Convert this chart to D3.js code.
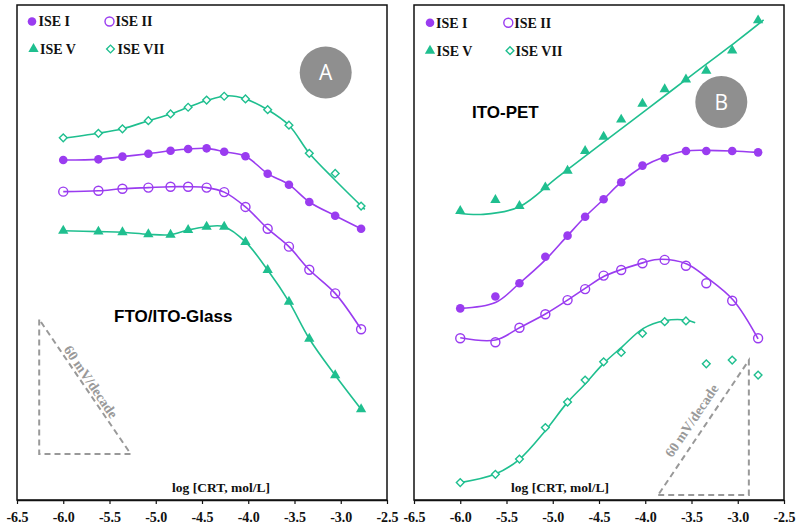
<!DOCTYPE html>
<html>
<head>
<meta charset="utf-8">
<script src="https://cdn.jsdelivr.net/npm/d3@7"></script>
<style>
  html, body { margin: 0; padding: 0; background: #fff; }
  svg { display: block; }
</style>
</head>
<body>
<svg id="chart" width="800" height="530"></svg>
<script>
// ---------- data ----------
const xTicks = [-6.5, -6.0, -5.5, -5.0, -4.5, -4.0, -3.5, -3.0, -2.5];
const logC = [-6.0, -5.62, -5.36, -5.08, -4.84, -4.65, -4.45, -4.26, -4.03, -3.79, -3.56, -3.34, -3.06, -2.78];

// Panel A (FTO/ITO-Glass), potential in mV (relative)
const A_I   = [151.0, 151.3, 152.5, 153.8, 155.1, 155.9, 156.2, 154.7, 152.7, 144.9, 140.0, 132.3, 126.2, 120.4];
const A_II  = [136.9, 137.3, 138.2, 138.7, 139.1, 139.1, 138.7, 136.7, 130.1, 120.4, 112.4, 102.1, 91.6, 75.6];
const A_V   = [119.5, 119.1, 118.8, 117.9, 117.7, 119.8, 121.3, 121.3, 114.5, 102.0, 87.9, 71.4, 55.1, 40.0];
const A_VII = [160.9, 162.9, 164.9, 168.5, 171.5, 174.5, 177.7, 179.4, 178.2, 173.4, 166.5, 154.0, 145.0, 130.5];

// Panel B (ITO-PET)
const B_I   = [84.9, 90.2, 96.1, 107.9, 117.3, 125.7, 133.5, 141.1, 148.5, 151.8, 155.0, 155.0, 155.0, 154.4];
const B_II  = [71.6, 69.8, 76.3, 82.3, 88.6, 93.5, 99.5, 102.0, 105.0, 106.5, 103.9, 96.1, 88.3, 71.6];
const B_V   = [128.3, 133.2, 130.5, 138.8, 146.2, 155.0, 161.4, 169.0, 176.1, 182.5, 186.9, 190.8, 199.8, 213.2];
const B_VII = [7.3, 11.0, 17.8, 31.8, 43.2, 53.0, 61.1, 65.3, 73.8, 79.0, 79.3, 60.2, 61.9, 55.2];

// Fitted curves: [logC, mV]
const A_I_fit   = logC.map((x, i) => [x, A_I[i]]);
const A_II_fit  = logC.map((x, i) => [x, A_II[i]]);
const A_V_fit   = logC.map((x, i) => [x, A_V[i]]);
const A_VII_fit = [[-6.03, 160.5], [-5.62, 162.9], [-5.36, 164.9], [-5.08, 168.5], [-4.84, 171.5], [-4.65, 174.5], [-4.45, 177.5], [-4.22, 179.6], [-4.03, 178.2], [-3.79, 173.4], [-3.56, 166.5], [-3.34, 154.0], [-3.06, 142.0], [-2.74, 129.0]];

const B_I_fit   = [[-6.0, 84.9], [-5.62, 87.5], [-5.36, 96.1], [-5.08, 106.5], [-4.84, 117.3], [-4.65, 125.7], [-4.45, 133.5], [-4.26, 141.1], [-4.03, 148.0], [-3.79, 152.5], [-3.56, 155.0], [-3.34, 155.3], [-3.06, 155.0], [-2.78, 154.4]];
const B_II_fit  = [[-6.0, 71.8], [-5.62, 70.8], [-5.35, 76.5], [-5.08, 82.4], [-4.84, 88.6], [-4.65, 93.8], [-4.44, 99.3], [-4.25, 102.3], [-4.02, 105.3], [-3.84, 106.8], [-3.55, 104.7], [-3.34, 98.8], [-3.05, 88.6], [-2.78, 71.3]];
const B_V_fit   = [[-6.04, 127.4], [-5.75, 126.8], [-5.36, 130.2], [-4.95, 143.3], [-4.5, 157.4], [-4.0, 173.0], [-3.5, 188.7], [-3.0, 204.3], [-2.72, 213.4]];
const B_VII_fit = [[-6.0, 7.3], [-5.62, 11.1], [-5.36, 17.7], [-5.08, 30.4], [-4.85, 42.6], [-4.66, 50.8], [-4.45, 60.4], [-4.25, 67.8], [-4.02, 76.0], [-3.79, 79.4], [-3.56, 79.7], [-3.46, 78.5]];

const seriesNames = ["ISE I", "ISE II", "ISE V", "ISE VII"];
const panelLabels = ["FTO/ITO-Glass", "ITO-PET"];
const badgeLetters = ["A", "B"];
const slopeText = "60 mV/decade";
const axisTitle = "log [CRT, mol/L]";
// 60 mV/decade guide triangles: [x0, x1, y0, y1] in data units
const A_guide = [-6.26, -5.27, 20, 80];
const B_guide = [-3.86, -2.88, 1.8, 61.8];

// ---------- style ----------
const PURPLE = "#9a3cf0";
const GREEN = "#1fbf8f";
const GREY = "#8f8f8f";
const DASH = "#999999";
const SERIF = "'Liberation Serif', 'Times New Roman', serif";
const SANS = "'Liberation Sans', Arial, sans-serif";

const svg = d3.select("#chart");
const TOP = 5, BOTTOM = 500;

const series = [
  { name: seriesNames[0], color: PURPLE, kind: "circleFill" },
  { name: seriesNames[1], color: PURPLE, kind: "circleOpen" },
  { name: seriesNames[2], color: GREEN, kind: "triangle" },
  { name: seriesNames[3], color: GREEN, kind: "diamond" }
];

function drawMarker(g, kind, color, x, y) {
  if (kind === "circleFill") {
    g.append("circle").attr("cx", x).attr("cy", y).attr("r", 4.3).attr("fill", color);
  } else if (kind === "circleOpen") {
    g.append("circle").attr("cx", x).attr("cy", y).attr("r", 4.5).attr("fill", "none")
      .attr("stroke", color).attr("stroke-width", 1.4);
  } else if (kind === "triangle") {
    g.append("path").attr("d", d3.symbol().type(d3.symbolTriangle).size(46)())
      .attr("transform", `translate(${x},${y})`).attr("fill", color);
  } else {
    g.append("path").attr("d", d3.symbol().type(d3.symbolSquare).size(30)())
      .attr("transform", `translate(${x},${y}) rotate(45)`).attr("fill", "#fff")
      .attr("stroke", color).attr("stroke-width", 1.4);
  }
}

const panels = [
  {
    x0: 17, x1: 387,
    data: [A_I, A_II, A_V, A_VII],
    fits: [A_I_fit, A_II_fit, A_V_fit, A_VII_fit],
    legend: { rows: [21.5, 49], cols: [[32, 38.5], [109.5, 115.5]], tri: [33.5, 40], dia: [110.5, 117.5] },
    label: { text: panelLabels[0], x: 114, y: 322 },
    badge: { text: badgeLetters[0], cx: 325.7, cy: 72.5 },
    guide: A_guide, guideDir: "down",
    title: { x: 221, y: 491.5 }
  },
  {
    x0: 414, x1: 784,
    data: [B_I, B_II, B_V, B_VII],
    fits: [B_I_fit, B_II_fit, B_V_fit, B_VII_fit],
    legend: { rows: [22.7, 50.7], cols: [[430, 436], [508.3, 514.3]], tri: [430, 436.5], dia: [510, 515.5] },
    label: { text: panelLabels[1], x: 472, y: 118.3 },
    badge: { text: badgeLetters[1], cx: 721.3, cy: 102 },
    guide: B_guide, guideDir: "up",
    title: { x: 560, y: 491.5 }
  }
];

panels.forEach(p => {
  const g = svg.append("g");
  const x = d3.scaleLinear().domain([-6.5, -2.5]).range([p.x0, p.x1]);
  const y = d3.scaleLinear().domain([0, 220]).range([499, 499 - 220 * 2.245]);

  // frame
  g.append("rect").attr("x", p.x0).attr("y", TOP).attr("width", p.x1 - p.x0).attr("height", BOTTOM - TOP)
    .attr("fill", "none").attr("stroke", "#111").attr("stroke-width", 1.5);

  // bottom axis
  const ax = g.append("g").attr("transform", `translate(0,${BOTTOM})`)
    .call(d3.axisBottom(x).tickValues(xTicks).tickFormat(d => d.toFixed(1)).tickSize(4).tickSizeOuter(0).tickPadding(8));
  ax.select(".domain").attr("stroke", "#111").attr("stroke-width", 1.5);
  ax.selectAll(".tick line").attr("stroke", "#111").attr("stroke-width", 1.2);
  ax.selectAll(".tick text").attr("font-family", SERIF).attr("font-weight", "bold").attr("font-size", 14).attr("fill", "#111");

  // axis title inside the plot
  g.append("text").attr("x", p.title.x).attr("y", p.title.y).attr("text-anchor", "middle")
    .attr("font-family", SERIF).attr("font-weight", "bold").attr("font-size", 13.5).attr("fill", "#111")
    .text(axisTitle);

  // guide triangle
  const [gx0, gx1, gy0, gy1] = p.guide;
  let pts;
  if (p.guideDir === "down") {
    pts = [[gx0, gy1], [gx0, gy0], [gx1, gy0], [gx0, gy1]];
  } else {
    pts = [[gx0, gy0], [gx1, gy0], [gx1, gy1], [gx0, gy0]];
  }
  g.append("path").attr("d", d3.line().x(d => x(d[0])).y(d => y(d[1]))(pts))
    .attr("fill", "none").attr("stroke", DASH).attr("stroke-width", 2).attr("stroke-dasharray", "6,4");
  // slope text along hypotenuse
  const hx0 = x(gx0), hx1 = x(gx1);
  let ang, tx, ty;
  if (p.guideDir === "down") {
    ang = Math.atan2(y(gy0) - y(gy1), hx1 - hx0) * 180 / Math.PI;
    tx = (hx0 + hx1) / 2 + 6; ty = (y(gy0) + y(gy1)) / 2 - 5;
  } else {
    ang = Math.atan2(y(gy1) - y(gy0), hx1 - hx0) * 180 / Math.PI;
    tx = (hx0 + hx1) / 2 - 12; ty = (y(gy0) + y(gy1)) / 2 - 7;
  }
  g.append("text").attr("transform", `translate(${tx},${ty}) rotate(${ang})`)
    .attr("text-anchor", "middle").attr("dy", "0.35em")
    .attr("font-family", SERIF).attr("font-weight", "bold").attr("font-size", 14).attr("fill", DASH)
    .text(slopeText);

  // fitted curves
  const line = d3.line().x(d => x(d[0])).y(d => y(d[1])).curve(d3.curveCatmullRom.alpha(0.5));
  p.fits.forEach((f, i) => {
    g.append("path").attr("d", line(f)).attr("fill", "none")
      .attr("stroke", series[i].color).attr("stroke-width", 1.6);
  });

  // markers
  p.data.forEach((vals, i) => {
    const mg = g.append("g");
    vals.forEach((v, j) => drawMarker(mg, series[i].kind, series[i].color, x(logC[j]), y(v)));
  });

  // legend
  const lg = g.append("g");
  const L = p.legend;
  const legendItems = [
    { s: series[0], mx: L.cols[0][0], tx: L.cols[0][1], yy: L.rows[0] },
    { s: series[1], mx: L.cols[1][0], tx: L.cols[1][1], yy: L.rows[0] },
    { s: series[2], mx: L.tri[0], tx: L.tri[1], yy: L.rows[1] },
    { s: series[3], mx: L.dia[0], tx: L.dia[1], yy: L.rows[1] }
  ];
  legendItems.forEach(it => {
    drawMarker(lg, it.s.kind, it.s.color, it.mx, it.yy);
    lg.append("text").attr("x", it.tx).attr("y", it.yy).attr("dy", "0.35em")
      .attr("font-family", SERIF).attr("font-weight", "bold").attr("font-size", 14).attr("fill", "#111")
      .text(it.s.name);
  });

  // panel label
  g.append("text").attr("x", p.label.x).attr("y", p.label.y)
    .attr("font-family", SANS).attr("font-weight", "bold").attr("font-size", 17).attr("fill", "#000")
    .text(p.label.text);

  // badge
  g.append("circle").attr("cx", p.badge.cx).attr("cy", p.badge.cy).attr("r", 26).attr("fill", GREY);
  g.append("text").attr("x", p.badge.cx).attr("y", p.badge.cy).attr("dy", "0.36em").attr("text-anchor", "middle")
    .attr("font-family", "'Open Sans', sans-serif").attr("font-size", 21).attr("fill", "#fff")
    .text(p.badge.text);
});
</script>
</body>
</html>
